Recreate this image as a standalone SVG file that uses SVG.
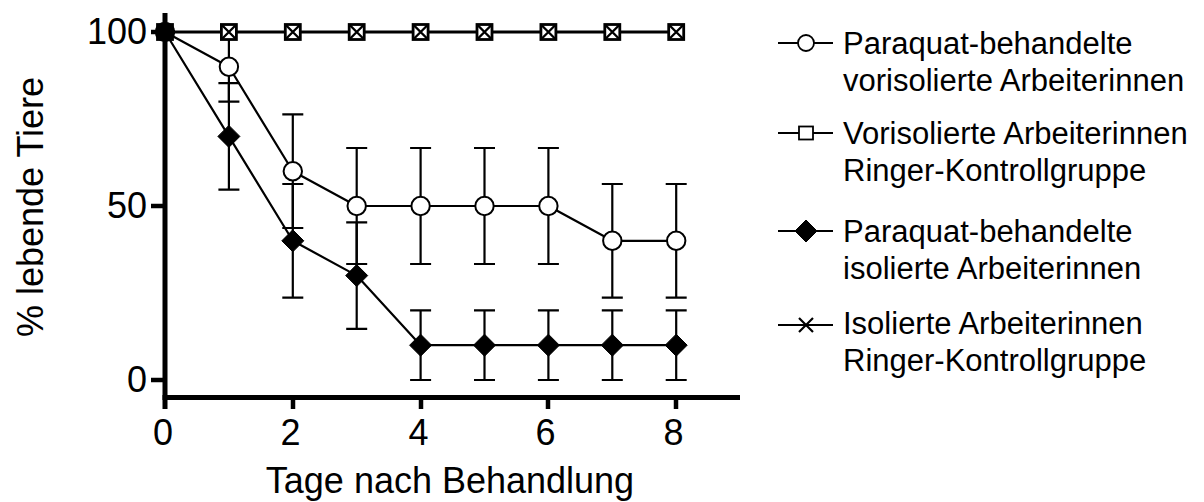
<svg xmlns="http://www.w3.org/2000/svg" xmlns:xlink="http://www.w3.org/1999/xlink" width="1204" height="502" viewBox="0 0 1204 502">
<style>
text{font-family:"Liberation Sans",Arial,sans-serif;fill:#000}
.ax{stroke:#000;stroke-width:5;fill:none}
.tk{stroke:#000;stroke-width:4.5;fill:none}
.lbl{font-size:36px}
.leg{font-size:31px}
.ln{stroke:#000;stroke-width:2.2;fill:none;stroke-linejoin:round}
.eb{stroke:#000;stroke-width:2.2;fill:none}
.lgl{stroke:#000;stroke-width:1.8;fill:none}
</style>
<defs>
<g id="mCircle"><circle r="9.2" fill="#fff" stroke="#000" stroke-width="2"/></g>
<g id="mDiamond"><path d="M0,-11 L11,0 L0,11 L-11,0 Z" fill="#000" stroke="#000" stroke-width="1"/></g>
<g id="mSquare"><rect x="-7.5" y="-7.5" width="15" height="15" fill="#fff" stroke="#000" stroke-width="2.8"/></g>
<g id="mX"><path d="M-7,-7 L7,7 M7,-7 L-7,7" stroke="#000" stroke-width="2.4" fill="none"/></g>
<g id="lCircle"><circle r="8" fill="#fff" stroke="#000" stroke-width="1.8"/></g>
<g id="lSquare"><rect x="-7" y="-6.5" width="14" height="13" fill="#fff" stroke="#000" stroke-width="1.8"/></g>
<g id="lX"><path d="M-7,-7 L7,7 M7,-7 L-7,7" stroke="#000" stroke-width="2.2" fill="none"/></g>
</defs>

<g id="axes">
<line class="ax" x1="165" y1="13" x2="165" y2="409"/>
<line class="ax" x1="162.5" y1="397.5" x2="740" y2="397.5"/>
<line class="tk" x1="151" y1="32" x2="165" y2="32"/>
<line class="tk" x1="151" y1="206" x2="165" y2="206"/>
<line class="tk" x1="151" y1="380" x2="165" y2="380"/>
<line class="tk" x1="293" y1="397" x2="293" y2="409"/>
<line class="tk" x1="421" y1="397" x2="421" y2="409"/>
<line class="tk" x1="548" y1="397" x2="548" y2="409"/>
<line class="tk" x1="676" y1="397" x2="676" y2="409"/>
<text class="lbl" x="147" y="44" text-anchor="end">100</text>
<text class="lbl" x="147" y="218" text-anchor="end">50</text>
<text class="lbl" x="147" y="392" text-anchor="end">0</text>
<text class="lbl" x="163" y="445" text-anchor="middle">0</text>
<text class="lbl" x="290.5" y="445" text-anchor="middle">2</text>
<text class="lbl" x="418.5" y="445" text-anchor="middle">4</text>
<text class="lbl" x="545.5" y="445" text-anchor="middle">6</text>
<text class="lbl" x="673.5" y="445" text-anchor="middle">8</text>
<text class="lbl" x="450" y="493" text-anchor="middle">Tage nach Behandlung</text>
<text class="lbl" transform="translate(43,207) rotate(-90)" text-anchor="middle">% lebende Tiere</text>
</g>

<g id="connectors">
<g id="errorbars">
<path class="eb" d="M228.9,32 V101.6 M218.4,101.6 H239.4"/>
<path class="eb" d="M292.8,114.4 V228 M282.3,114.4 H303.3 M282.3,228 H303.3"/>
<path class="eb" d="M356.7,148 V264 M346.2,148 H367.2 M346.2,264 H367.2"/>
<path class="eb" d="M420.6,148 V264 M410.1,148 H431.1 M410.1,264 H431.1"/>
<path class="eb" d="M484.5,148 V264 M474,148 H495 M474,264 H495"/>
<path class="eb" d="M548.4,148 V264 M537.9,148 H558.9 M537.9,264 H558.9"/>
<path class="eb" d="M612.3,184 V297.6 M601.8,184 H622.8 M601.8,297.6 H622.8"/>
<path class="eb" d="M676.2,184 V297.6 M665.7,184 H686.7 M665.7,297.6 H686.7"/>
<path class="eb" d="M228.9,83.2 V189.6 M218.4,83.2 H239.4 M218.4,189.6 H239.4"/>
<path class="eb" d="M292.8,184 V297.6 M282.3,184 H303.3 M282.3,297.6 H303.3"/>
<path class="eb" d="M356.7,222.4 V328.8 M346.2,222.4 H367.2 M346.2,328.8 H367.2"/>
<path class="eb" d="M420.6,310.4 V380 M410.1,310.4 H431.1 M410.1,380 H431.1"/>
<path class="eb" d="M484.5,310.4 V380 M474,310.4 H495 M474,380 H495"/>
<path class="eb" d="M548.4,310.4 V380 M537.9,310.4 H558.9 M537.9,380 H558.9"/>
<path class="eb" d="M612.3,310.4 V380 M601.8,310.4 H622.8 M601.8,380 H622.8"/>
<path class="eb" d="M676.2,310.4 V380 M665.7,310.4 H686.7 M665.7,380 H686.7"/>
</g>
<polyline class="ln" points="165,32 676.2,32" style="stroke-width:2.8"/>
<polyline class="ln" points="165,32 228.9,66.8 292.8,171.2 356.7,206 420.6,206 484.5,206 548.4,206 612.3,240.8 676.2,240.8"/>
<polyline class="ln" points="165,32 228.9,136.4 292.8,240.8 356.7,275.6 420.6,345.2 484.5,345.2 548.4,345.2 612.3,345.2 676.2,345.2"/>
</g>

<g id="series-vorisoliert-ringer">
<use xlink:href="#mSquare" x="165" y="32"/><use xlink:href="#mSquare" x="228.9" y="32"/><use xlink:href="#mSquare" x="292.8" y="32"/><use xlink:href="#mSquare" x="356.7" y="32"/><use xlink:href="#mSquare" x="420.6" y="32"/><use xlink:href="#mSquare" x="484.5" y="32"/><use xlink:href="#mSquare" x="548.4" y="32"/><use xlink:href="#mSquare" x="612.3" y="32"/><use xlink:href="#mSquare" x="676.2" y="32"/>
</g>
<g id="series-isoliert-ringer">
<use xlink:href="#mX" x="165" y="32"/><use xlink:href="#mX" x="228.9" y="32"/><use xlink:href="#mX" x="292.8" y="32"/><use xlink:href="#mX" x="356.7" y="32"/><use xlink:href="#mX" x="420.6" y="32"/><use xlink:href="#mX" x="484.5" y="32"/><use xlink:href="#mX" x="548.4" y="32"/><use xlink:href="#mX" x="612.3" y="32"/><use xlink:href="#mX" x="676.2" y="32"/>
</g>
<g id="series-paraquat-vorisoliert">
<use xlink:href="#mCircle" x="165" y="32"/><use xlink:href="#mCircle" x="228.9" y="66.8"/><use xlink:href="#mCircle" x="292.8" y="171.2"/><use xlink:href="#mCircle" x="356.7" y="206"/><use xlink:href="#mCircle" x="420.6" y="206"/><use xlink:href="#mCircle" x="484.5" y="206"/><use xlink:href="#mCircle" x="548.4" y="206"/><use xlink:href="#mCircle" x="612.3" y="240.8"/><use xlink:href="#mCircle" x="676.2" y="240.8"/>
</g>
<g id="series-paraquat-isoliert">
<use xlink:href="#mDiamond" x="165" y="32"/><use xlink:href="#mDiamond" x="228.9" y="136.4"/><use xlink:href="#mDiamond" x="292.8" y="240.8"/><use xlink:href="#mDiamond" x="356.7" y="275.6"/><use xlink:href="#mDiamond" x="420.6" y="345.2"/><use xlink:href="#mDiamond" x="484.5" y="345.2"/><use xlink:href="#mDiamond" x="548.4" y="345.2"/><use xlink:href="#mDiamond" x="612.3" y="345.2"/><use xlink:href="#mDiamond" x="676.2" y="345.2"/>
<rect x="158" y="25" width="14" height="14" fill="#000"/>
</g>

<g id="legend">
<g id="legend-1">
<line class="lgl" x1="778" y1="43" x2="833" y2="43"/>
<use xlink:href="#lCircle" x="806" y="43"/>
<text class="leg" x="843" y="54">Paraquat-behandelte</text>
<text class="leg" x="843" y="91">vorisolierte Arbeiterinnen</text>
</g>
<g id="legend-2">
<line class="lgl" x1="778" y1="133" x2="833" y2="133"/>
<use xlink:href="#lSquare" x="806" y="133"/>
<text class="leg" x="843" y="144">Vorisolierte Arbeiterinnen</text>
<text class="leg" x="843" y="181">Ringer-Kontrollgruppe</text>
</g>
<g id="legend-3">
<line class="lgl" x1="778" y1="231" x2="833" y2="231"/>
<use xlink:href="#mDiamond" x="806" y="231"/>
<text class="leg" x="843" y="242">Paraquat-behandelte</text>
<text class="leg" x="843" y="279">isolierte Arbeiterinnen</text>
</g>
<g id="legend-4">
<line class="lgl" x1="778" y1="325" x2="833" y2="325"/>
<use xlink:href="#lX" x="806" y="325"/>
<text class="leg" x="843" y="334">Isolierte Arbeiterinnen</text>
<text class="leg" x="843" y="371">Ringer-Kontrollgruppe</text>
</g>
</g>
</svg>
